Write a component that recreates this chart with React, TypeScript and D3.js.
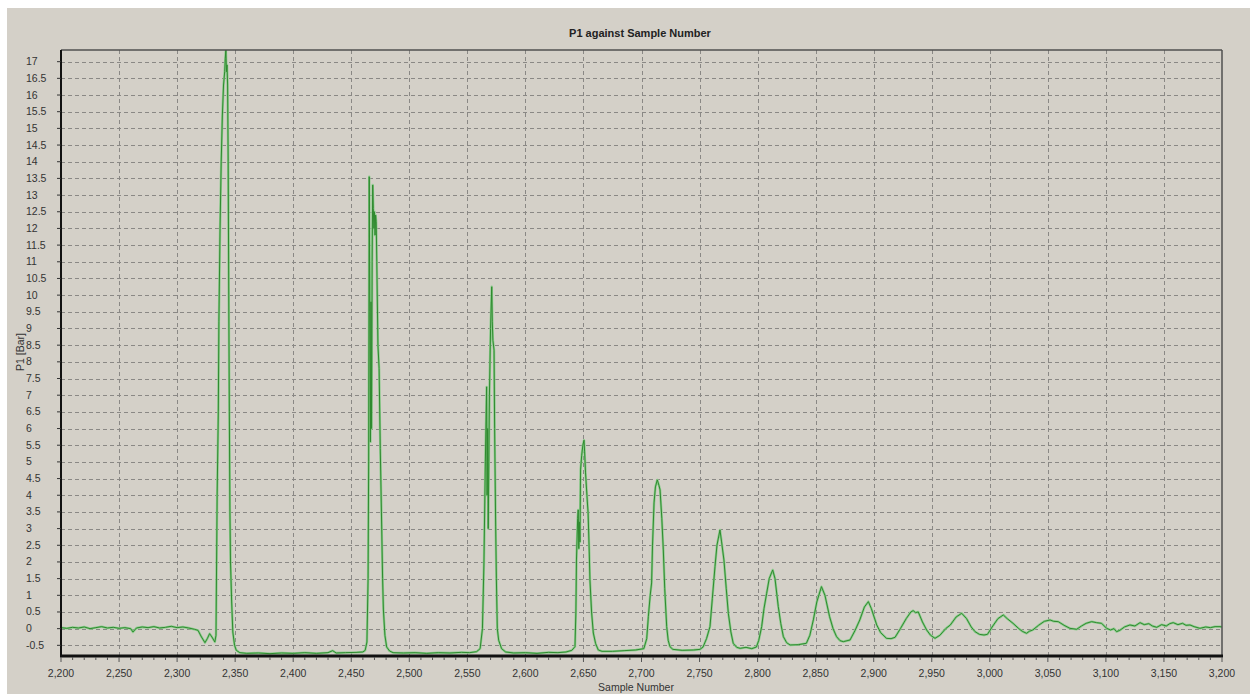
import React from "react";
import * as d3 from "d3";

const chartTitle = "P1 against Sample Number";
const xLabel = "Sample Number";
const yLabel = "P1 [Bar]";

const xTicks = [2200, 2250, 2300, 2350, 2400, 2450, 2500, 2550, 2600, 2650, 2700, 2750, 2800, 2850, 2900, 2950, 3000, 3050, 3100, 3150, 3200];
const yTicks = [-0.5, 0, 0.5, 1, 1.5, 2, 2.5, 3, 3.5, 4, 4.5, 5, 5.5, 6, 6.5, 7, 7.5, 8, 8.5, 9, 9.5, 10, 10.5, 11, 11.5, 12, 12.5, 13, 13.5, 14, 14.5, 15, 15.5, 16, 16.5, 17];

const samples = [
  2200, 2205, 2210, 2215, 2220, 2225, 2230, 2235, 2240, 2245, 2250, 2255, 2260, 2262, 2265, 2270, 2275, 2280, 2285, 2290, 2295, 2300, 2305, 2310, 2315, 2318, 2321, 2324, 2326, 2328, 2330, 2332.5, 2333.5,
  2334.5, 2335.5, 2336, 2337, 2338, 2339, 2340, 2341, 2341.5, 2342, 2342.5, 2343, 2343.5, 2344, 2344.5, 2345, 2345.5, 2346, 2347, 2348, 2349.5, 2351, 2354,
  2360, 2370, 2380, 2390, 2400, 2410, 2420, 2430, 2434, 2437, 2445, 2455, 2460, 2462, 2463.5,
  2464.5, 2465, 2465.5, 2466, 2466.5, 2467, 2467.5, 2468, 2468.5, 2469, 2469.5, 2470, 2470.5, 2471, 2471.5, 2472, 2473, 2474, 2475, 2476, 2477, 2477.7, 2479, 2480.5, 2483, 2486,
  2495, 2505, 2515, 2525, 2535, 2545, 2552, 2558, 2561, 2563,
  2564.3, 2565.5, 2566.6, 2567, 2567.5, 2568, 2568.5, 2569, 2570, 2571, 2571.5, 2572, 2573, 2573.5, 2574.4, 2575, 2575.8, 2577, 2579.5, 2583,
  2590, 2600, 2610, 2620, 2628, 2635, 2640, 2642.7,
  2643.5, 2644, 2645, 2645.5, 2646, 2646.5, 2647, 2647.5, 2648.5, 2649.5, 2650.5, 2651, 2651.8, 2653, 2654, 2655, 2655.6, 2657, 2658.5, 2660.5, 2662.8,
  2666, 2675, 2685, 2695, 2702, 2704.5,
  2705.9, 2707.5, 2708.7, 2709.5, 2710.8, 2712, 2713.6, 2715, 2716, 2717.5, 2718.8, 2720, 2721.7, 2723, 2724.5, 2727,
  2735, 2745, 2750.4, 2753, 2756, 2759, 2761, 2763.3, 2765, 2767.6, 2769, 2771, 2773, 2774.8, 2777, 2779, 2782, 2785, 2790, 2795, 2799,
  2801, 2803.5, 2805.5, 2807.8, 2810, 2813, 2815, 2817.8, 2820, 2822.2, 2825, 2828, 2835, 2842,
  2845, 2848, 2851, 2855, 2858, 2862, 2865, 2868, 2871, 2873.8, 2879.6,
  2884, 2888, 2892, 2895.4, 2898, 2902.6, 2906, 2911, 2915, 2918.4,
  2923, 2928, 2932, 2934, 2936, 2938.4, 2942, 2945.6, 2949, 2952.8,
  2957, 2962, 2966, 2971, 2975.8, 2980, 2984, 2987.3, 2991, 2995, 2998,
  3002, 3007, 3011.6, 3015, 3020, 3025, 3028, 3031.7, 3034, 3037,
  3042, 3047, 3051.9, 3055, 3059, 3064, 3069, 3074.8, 3079, 3083, 3087.7, 3092, 3096.3, 3100.6, 3104, 3107, 3109.2, 3112, 3116, 3120.7,
  3125, 3129.4, 3133, 3137, 3140, 3143.8, 3148, 3152, 3155, 3158, 3162, 3166, 3169, 3172.4, 3176, 3181, 3186, 3190, 3194, 3198.3, 3200,
];

const p1Values = [
  0.03, 0.01, 0.04, 0.02, 0.05, 0.0, 0.03, 0.06, 0.02, 0.04, 0.01, 0.03, 0.0, -0.1, 0.02, 0.05, 0.03, 0.06, 0.02, 0.04, 0.07, 0.03, 0.05, 0.02, -0.02, -0.05, -0.25, -0.42, -0.3, -0.15, -0.25, -0.4, -0.2,
  4.0, 6.5, 9.2, 12.0, 14.0, 15.4, 16.3, 16.7, 17.1, 17.35, 16.7, 16.9, 16.3, 14.0, 10.0, 6.5, 3.5, 2.0, 0.8, -0.1, -0.5, -0.65, -0.72,
  -0.74, -0.73, -0.75, -0.73, -0.74, -0.72, -0.74, -0.72, -0.66, -0.73, -0.72, -0.71, -0.7, -0.65, -0.4,
  1.5, 5.0, 13.55, 9.5, 5.6, 9.8, 6.0, 11.0, 13.3, 12.6, 12.0, 12.5, 11.8, 12.4, 12.2, 11.0, 8.5, 7.8, 5.4, 3.5, 1.5, 0.56, -0.2, -0.55, -0.67, -0.72,
  -0.73, -0.72, -0.74, -0.72, -0.73, -0.71, -0.72, -0.69, -0.6, 0.0,
  1.97, 5.0, 7.25, 4.0, 6.0, 3.0, 5.0, 7.0, 9.0, 10.25, 9.2, 8.65, 8.35, 6.0, 3.05, 1.5, 0.0, -0.35, -0.6, -0.7,
  -0.73, -0.72, -0.74, -0.71, -0.72, -0.7, -0.65, -0.54,
  0.5, 2.06, 3.3, 3.56, 2.4, 3.2, 2.6, 4.76, 5.2, 5.5, 5.65, 5.3, 4.67, 4.0, 3.47, 2.3, 1.46, 0.5, -0.13, -0.45, -0.64,
  -0.68, -0.68, -0.66, -0.64, -0.6, -0.3,
  0.36, 1.0, 1.37, 2.5, 3.77, 4.25, 4.46, 4.3, 4.16, 3.3, 2.36, 1.2, 0.06, -0.35, -0.54, -0.62,
  -0.65, -0.64, -0.62, -0.55, -0.3, 0.06, 0.9, 1.86, 2.5, 2.96, 2.6, 2.06, 1.2, 0.46, -0.1, -0.44, -0.56, -0.59, -0.56, -0.6, -0.55,
  -0.35, 0.06, 0.6, 1.06, 1.5, 1.76, 1.5, 0.66, 0.15, -0.24, -0.42, -0.49, -0.48, -0.44,
  -0.2, 0.26, 0.8, 1.26, 1.0, 0.36, 0.0, -0.24, -0.36, -0.39, -0.34,
  -0.05, 0.26, 0.65, 0.81, 0.6, 0.11, -0.12, -0.29, -0.3, -0.26,
  0.0, 0.3, 0.5, 0.54, 0.48, 0.5, 0.2, -0.04, -0.2, -0.29,
  -0.2, 0.0, 0.11, 0.35, 0.46, 0.3, 0.05, -0.09, -0.17, -0.19, -0.17,
  0.05, 0.3, 0.41, 0.3, 0.16, 0.0, -0.08, -0.14, -0.08, -0.04,
  0.1, 0.22, 0.26, 0.22, 0.21, 0.1, 0.01, -0.02, 0.08, 0.16, 0.21, 0.18, 0.16, 0.01, -0.04, 0.0, -0.09, -0.05, 0.05, 0.11,
  0.08, 0.18, 0.12, 0.15, 0.08, 0.04, 0.12, 0.08, 0.15, 0.18, 0.12, 0.16, 0.1, 0.11, 0.06, 0.01, 0.05, 0.03, 0.06, 0.06, 0.05,
];

const W = 1250;
const H = 694;
const plot = { left: 61, right: 1222, top: 50, bottom: 656 };
const FONT = "'Liberation Sans', Arial, sans-serif";

export default function App() {
  const x = d3.scaleLinear().domain([2200, 3200]).range([plot.left, plot.right]);
  const y = d3.scaleLinear().domain([-0.82, 17.35]).range([plot.bottom, plot.top]);
  const pts: [number, number][] = samples.map((s, i) => [s, p1Values[i]]);
  const line = d3.line<[number, number]>().x((d) => x(d[0])).y((d) => y(d[1]));
  const path = line(pts) || "";
  const fmtX = d3.format(",");
  const minorX = d3.range(2200, 3201, 10);

  return (
    <svg width={W} height={H} style={{ position: "absolute", left: 0, top: 0, display: "block" }}>
      <rect x={0} y={0} width={W} height={H} fill="#ffffff" />
      <rect x={7} y={8} width={W - 7} height={H - 8} fill="#d4d0c8" />
      <defs>
        <clipPath id="plotclip">
          <rect x={plot.left} y={plot.top} width={plot.right - plot.left} height={plot.bottom - plot.top} />
        </clipPath>
      </defs>
      <text x={640} y={37} textAnchor="middle" fontFamily={FONT} fontSize={11} fontWeight="bold" fill="#222">
        {chartTitle}
      </text>
      {/* grid */}
      {yTicks.map((t) => (
        <line key={"gy" + t} x1={plot.left} x2={plot.right} y1={Math.round(y(t)) + 0.5} y2={Math.round(y(t)) + 0.5} stroke="#8a8885" strokeWidth={1} strokeDasharray="4,3" />
      ))}
      {xTicks.slice(1, -1).map((t) => (
        <line key={"gx" + t} x1={Math.round(x(t)) + 0.5} x2={Math.round(x(t)) + 0.5} y1={plot.top} y2={plot.bottom} stroke="#8a8885" strokeWidth={1} strokeDasharray="4,3" />
      ))}
      {/* data */}
      <g clipPath="url(#plotclip)">
        <path d={path} fill="none" stroke="#8ccc8c" strokeWidth={2.4} strokeLinejoin="round" />
        <path d={path} fill="none" stroke="#2f8a2f" strokeWidth={1} strokeLinejoin="round" />
      </g>
      {/* borders */}
      <line x1={plot.left} x2={plot.right} y1={plot.top} y2={plot.top} stroke="#505050" strokeWidth={1.5} />
      <line x1={plot.right} x2={plot.right} y1={plot.top} y2={plot.bottom} stroke="#505050" strokeWidth={1.5} />
      <line x1={plot.left} x2={plot.left} y1={plot.top} y2={plot.bottom + 1} stroke="#111" strokeWidth={2} />
      <line x1={plot.left - 1} x2={plot.right + 1} y1={plot.bottom} y2={plot.bottom} stroke="#111" strokeWidth={3} />
      {/* y ticks */}
      {yTicks.map((t) => (
        <g key={"ty" + t}>
          <line x1={plot.left - 4} x2={plot.left} y1={y(t)} y2={y(t)} stroke="#333" strokeWidth={1} />
          <text x={26} y={y(t) + 3.5} fontFamily={FONT} fontSize={10.5} fill="#333">
            {String(t)}
          </text>
        </g>
      ))}
      {/* x ticks */}
      {minorX.map((t) => (
        <line key={"mx" + t} x1={x(t)} x2={x(t)} y1={plot.bottom + 1} y2={plot.bottom + (t % 50 === 0 ? 6 : 4)} stroke="#555" strokeWidth={1} />
      ))}
      {xTicks.map((t) => (
        <text key={"tx" + t} x={x(t)} y={677} textAnchor="middle" fontFamily={FONT} fontSize={10.5} fill="#333">
          {fmtX(t)}
        </text>
      ))}
      <text x={636} y={691} textAnchor="middle" fontFamily={FONT} fontSize={10.5} fill="#333">
        {xLabel}
      </text>
      <text transform="translate(24,352) rotate(-90)" textAnchor="middle" fontFamily={FONT} fontSize={10.5} fill="#333">
        {yLabel}
      </text>
    </svg>
  );
}
